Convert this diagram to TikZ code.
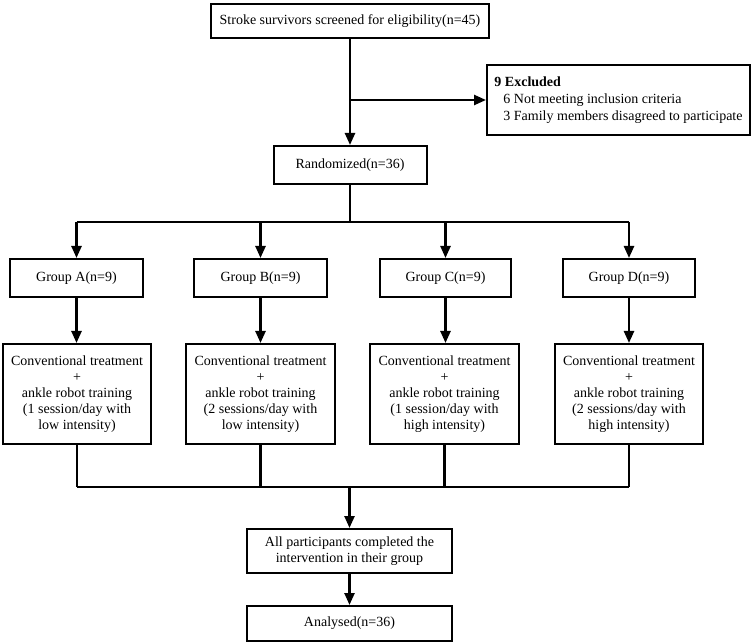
\documentclass[tikz,border=0pt]{standalone}
\usepackage{fontspec}
\setmainfont{Liberation Serif}
\usetikzlibrary{arrows.meta}

\tikzset{
  box/.style={draw,line width=2pt,inner sep=0pt,align=center,
    font=\fontsize{14}{16}\selectfont},
  line/.style={line width=2.4pt},
  arr/.style={line width=2.4pt,-{Triangle[length=12pt,width=10pt]}}
}

\begin{document}
\begin{tikzpicture}[x=1pt,y=-1pt]
\useasboundingbox (0,0) rectangle (753,644);
% screening and exclusion
\node[box,minimum width=278,minimum height=34] (screen) at (350,21) {Stroke survivors screened for eligibility(n=45)};
\node[box,minimum width=263,minimum height=70,align=left,font=\fontsize{14}{17}\selectfont] (excl) at (618.5,100)
  {\textbf{9 Excluded}\\\hspace*{9pt}6 Not meeting inclusion criteria\\\hspace*{9pt}3 Family members disagreed to participate};
\node[box,minimum width=153,minimum height=38] (rand) at (350,165) {Randomized(n=36)};
\coordinate (branch) at (350,100);
\draw[arr] (screen.south) -- (rand.north);
\draw[arr] (branch) -- (excl.west);
% groups
\node[box,minimum width=133,minimum height=38] (ga) at (76.5,278) {Group A(n=9)};
\node[box,minimum width=133,minimum height=38] (gb) at (260.5,278) {Group B(n=9)};
\node[box,minimum width=131,minimum height=38] (gc) at (445.5,278) {Group C(n=9)};
\node[box,minimum width=132,minimum height=38] (gd) at (629,278) {Group D(n=9)};
\coordinate (split) at (350,222);
\draw[line] (rand.south) -- (split);
\draw[line] (split -| ga.north) -- (split -| gd.north);
\foreach \g in {ga,gb,gc,gd}
  \draw[arr] (split -| \g.north) -- (\g.north);
% interventions
\node[box,minimum width=148,minimum height=100] (ta) at (77,394)
  {Conventional treatment\\+\\ankle robot training\\(1 session/day with\\low intensity)};
\node[box,minimum width=149,minimum height=100] (tb) at (260.5,394)
  {Conventional treatment\\+\\ankle robot training\\(2 sessions/day with\\low intensity)};
\node[box,minimum width=149,minimum height=100] (tc) at (444.5,394)
  {Conventional treatment\\+\\ankle robot training\\(1 session/day with\\high intensity)};
\node[box,minimum width=148,minimum height=100] (td) at (629,394)
  {Conventional treatment\\+\\ankle robot training\\(2 sessions/day with\\high intensity)};
\foreach \g/\t in {ga/ta,gb/tb,gc/tc,gd/td}
  \draw[arr] (\g.south) -- (\g.south |- \t.north);
% completion and analysis
\node[box,minimum width=205,minimum height=44] (done) at (349.5,551)
  {All participants completed the\\intervention in their group};
\node[box,minimum width=205,minimum height=35] (anal) at (349.5,623.5) {Analysed(n=36)};
\coordinate (merge) at (349.5,487);
\foreach \t in {ta,tb,tc,td}
  \draw[line] (\t.south) -- (\t.south |- merge);
\draw[line] (merge -| ta.south) -- (merge -| td.south);
\draw[arr] (merge) -- (done.north);
\draw[arr] (done.south) -- (anal.north);
\end{tikzpicture}
\end{document}
